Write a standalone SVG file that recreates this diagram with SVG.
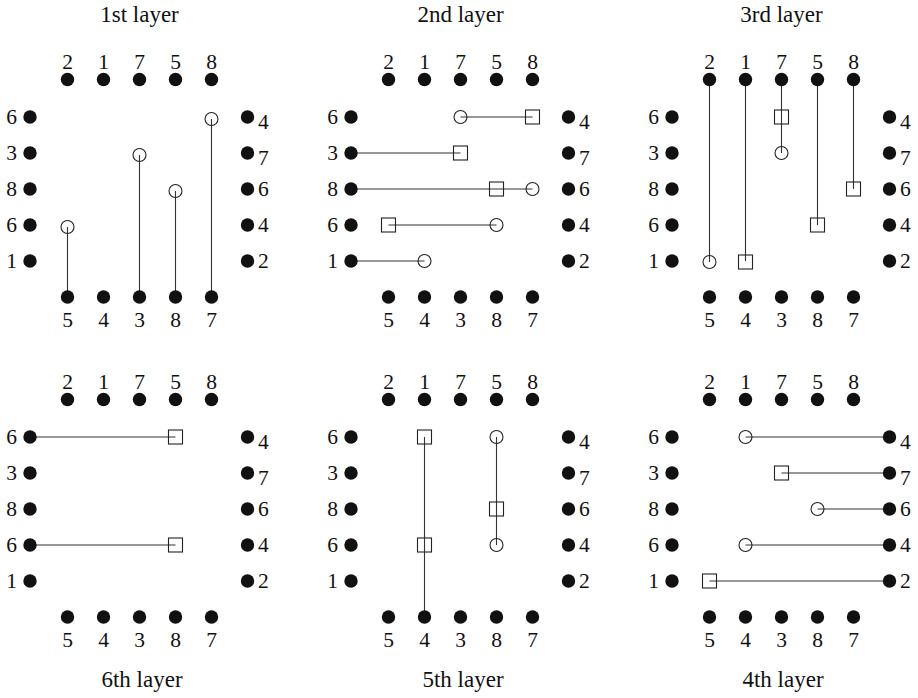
<svg xmlns="http://www.w3.org/2000/svg" width="918" height="698" viewBox="0 0 918 698">
<style>
text{font-family:"Liberation Serif","Times New Roman",serif;fill:#111}
.d{font-size:21.5px}
.c{text-anchor:middle}
.e{text-anchor:end}
.t{font-size:23px;text-anchor:middle}
.pin{fill:#111}
.via{fill:none;stroke:#222;stroke-width:1.1}
.w{stroke:#333;stroke-width:1.1;fill:none}
</style>
<rect width="918" height="698" fill="#fff"/>
<text class="t" x="139.5" y="22">1st layer</text>
<text class="t" x="460.5" y="22">2nd layer</text>
<text class="t" x="781.5" y="22">3rd layer</text>
<text class="t" x="142" y="687">6th layer</text>
<text class="t" x="463" y="687">5th layer</text>
<text class="t" x="783" y="687">4th layer</text>

<!-- ===== Panel 1: 1st layer ===== -->
<g id="layer1" transform="translate(0,0)">
<g id="connectors-1">
<path class="w" d="M67.5 297V227M139.5 297V155M175.5 297V191M211.5 297V119"/>
</g>
<g id="l1-t1"><circle class="pin" cx="67.5" cy="79.5" r="6.7"/><text class="d c" x="67.5" y="68.5">2</text></g>
<g id="l1-t2"><circle class="pin" cx="103.5" cy="79.5" r="6.7"/><text class="d c" x="103.5" y="68.5">1</text></g>
<g id="l1-t3"><circle class="pin" cx="139.5" cy="79.5" r="6.7"/><text class="d c" x="139.5" y="68.5">7</text></g>
<g id="l1-t4"><circle class="pin" cx="175.5" cy="79.5" r="6.7"/><text class="d c" x="175.5" y="68.5">5</text></g>
<g id="l1-t5"><circle class="pin" cx="211.5" cy="79.5" r="6.7"/><text class="d c" x="211.5" y="68.5">8</text></g>
<g id="l1-l1"><circle class="pin" cx="30" cy="117" r="6.7"/><text class="d e" x="17" y="124">6</text></g>
<g id="l1-l2"><circle class="pin" cx="30" cy="153" r="6.7"/><text class="d e" x="17" y="160">3</text></g>
<g id="l1-l3"><circle class="pin" cx="30" cy="189" r="6.7"/><text class="d e" x="17" y="196">8</text></g>
<g id="l1-l4"><circle class="pin" cx="30" cy="225" r="6.7"/><text class="d e" x="17" y="232">6</text></g>
<g id="l1-l5"><circle class="pin" cx="30" cy="261" r="6.7"/><text class="d e" x="17" y="268">1</text></g>
<g id="l1-r1"><circle class="pin" cx="247.5" cy="117" r="6.7"/><text class="d" x="258" y="129">4</text></g>
<g id="l1-r2"><circle class="pin" cx="247.5" cy="153" r="6.7"/><text class="d" x="258" y="165">7</text></g>
<g id="l1-r3"><circle class="pin" cx="247.5" cy="189" r="6.7"/><text class="d" x="258" y="196">6</text></g>
<g id="l1-r4"><circle class="pin" cx="247.5" cy="225" r="6.7"/><text class="d" x="258" y="232">4</text></g>
<g id="l1-r5"><circle class="pin" cx="247.5" cy="261" r="6.7"/><text class="d" x="258" y="268">2</text></g>
<g id="l1-b1"><circle class="pin" cx="67.5" cy="297" r="6.7"/><text class="d c" x="67.5" y="327">5</text></g>
<g id="l1-b2"><circle class="pin" cx="103.5" cy="297" r="6.7"/><text class="d c" x="103.5" y="327">4</text></g>
<g id="l1-b3"><circle class="pin" cx="139.5" cy="297" r="6.7"/><text class="d c" x="139.5" y="327">3</text></g>
<g id="l1-b4"><circle class="pin" cx="175.5" cy="297" r="6.7"/><text class="d c" x="175.5" y="327">8</text></g>
<g id="l1-b5"><circle class="pin" cx="211.5" cy="297" r="6.7"/><text class="d c" x="211.5" y="327">7</text></g>
<g id="l1-v1"><circle class="via" cx="67.5" cy="227" r="6.5"/></g>
<g id="l1-v2"><circle class="via" cx="139.5" cy="155" r="6.5"/></g>
<g id="l1-v3"><circle class="via" cx="175.5" cy="191" r="6.5"/></g>
<g id="l1-v4"><circle class="via" cx="211.5" cy="119" r="6.5"/></g>
</g>

<!-- ===== Panel 2: 2nd layer ===== -->
<g id="layer2" transform="translate(321,0)">
<g id="connectors-2">
<path class="w" d="M139.5 117H211.5M30 153H139.5M30 189H211.5M67.5 225H175.5M30 261H103.5"/>
</g>
<g id="l2-t1"><circle class="pin" cx="67.5" cy="79.5" r="6.7"/><text class="d c" x="67.5" y="68.5">2</text></g>
<g id="l2-t2"><circle class="pin" cx="103.5" cy="79.5" r="6.7"/><text class="d c" x="103.5" y="68.5">1</text></g>
<g id="l2-t3"><circle class="pin" cx="139.5" cy="79.5" r="6.7"/><text class="d c" x="139.5" y="68.5">7</text></g>
<g id="l2-t4"><circle class="pin" cx="175.5" cy="79.5" r="6.7"/><text class="d c" x="175.5" y="68.5">5</text></g>
<g id="l2-t5"><circle class="pin" cx="211.5" cy="79.5" r="6.7"/><text class="d c" x="211.5" y="68.5">8</text></g>
<g id="l2-l1"><circle class="pin" cx="30" cy="117" r="6.7"/><text class="d e" x="17" y="124">6</text></g>
<g id="l2-l2"><circle class="pin" cx="30" cy="153" r="6.7"/><text class="d e" x="17" y="160">3</text></g>
<g id="l2-l3"><circle class="pin" cx="30" cy="189" r="6.7"/><text class="d e" x="17" y="196">8</text></g>
<g id="l2-l4"><circle class="pin" cx="30" cy="225" r="6.7"/><text class="d e" x="17" y="232">6</text></g>
<g id="l2-l5"><circle class="pin" cx="30" cy="261" r="6.7"/><text class="d e" x="17" y="268">1</text></g>
<g id="l2-r1"><circle class="pin" cx="247.5" cy="117" r="6.7"/><text class="d" x="258" y="129">4</text></g>
<g id="l2-r2"><circle class="pin" cx="247.5" cy="153" r="6.7"/><text class="d" x="258" y="165">7</text></g>
<g id="l2-r3"><circle class="pin" cx="247.5" cy="189" r="6.7"/><text class="d" x="258" y="196">6</text></g>
<g id="l2-r4"><circle class="pin" cx="247.5" cy="225" r="6.7"/><text class="d" x="258" y="232">4</text></g>
<g id="l2-r5"><circle class="pin" cx="247.5" cy="261" r="6.7"/><text class="d" x="258" y="268">2</text></g>
<g id="l2-b1"><circle class="pin" cx="67.5" cy="297" r="6.7"/><text class="d c" x="67.5" y="327">5</text></g>
<g id="l2-b2"><circle class="pin" cx="103.5" cy="297" r="6.7"/><text class="d c" x="103.5" y="327">4</text></g>
<g id="l2-b3"><circle class="pin" cx="139.5" cy="297" r="6.7"/><text class="d c" x="139.5" y="327">3</text></g>
<g id="l2-b4"><circle class="pin" cx="175.5" cy="297" r="6.7"/><text class="d c" x="175.5" y="327">8</text></g>
<g id="l2-b5"><circle class="pin" cx="211.5" cy="297" r="6.7"/><text class="d c" x="211.5" y="327">7</text></g>
<g id="l2-v1"><circle class="via" cx="139.5" cy="117" r="6.5"/></g>
<g id="l2-v2"><rect class="via" x="204.5" y="110" width="14" height="14"/></g>
<g id="l2-v3"><rect class="via" x="132.5" y="146" width="14" height="14"/></g>
<g id="l2-v4"><rect class="via" x="168.5" y="182" width="14" height="14"/></g>
<g id="l2-v5"><circle class="via" cx="211.5" cy="189" r="6.5"/></g>
<g id="l2-v6"><rect class="via" x="60.5" y="218" width="14" height="14"/></g>
<g id="l2-v7"><circle class="via" cx="175.5" cy="225" r="6.5"/></g>
<g id="l2-v8"><circle class="via" cx="103.5" cy="261" r="6.5"/></g>
</g>

<!-- ===== Panel 3: 3rd layer ===== -->
<g id="layer3" transform="translate(642,0)">
<g id="connectors-3">
<path class="w" d="M67.5 79.5V262M103.5 79.5V261M139.5 79.5V153M175.5 79.5V225M211.5 79.5V189"/>
</g>
<g id="l3-t1"><circle class="pin" cx="67.5" cy="79.5" r="6.7"/><text class="d c" x="67.5" y="68.5">2</text></g>
<g id="l3-t2"><circle class="pin" cx="103.5" cy="79.5" r="6.7"/><text class="d c" x="103.5" y="68.5">1</text></g>
<g id="l3-t3"><circle class="pin" cx="139.5" cy="79.5" r="6.7"/><text class="d c" x="139.5" y="68.5">7</text></g>
<g id="l3-t4"><circle class="pin" cx="175.5" cy="79.5" r="6.7"/><text class="d c" x="175.5" y="68.5">5</text></g>
<g id="l3-t5"><circle class="pin" cx="211.5" cy="79.5" r="6.7"/><text class="d c" x="211.5" y="68.5">8</text></g>
<g id="l3-l1"><circle class="pin" cx="30" cy="117" r="6.7"/><text class="d e" x="17" y="124">6</text></g>
<g id="l3-l2"><circle class="pin" cx="30" cy="153" r="6.7"/><text class="d e" x="17" y="160">3</text></g>
<g id="l3-l3"><circle class="pin" cx="30" cy="189" r="6.7"/><text class="d e" x="17" y="196">8</text></g>
<g id="l3-l4"><circle class="pin" cx="30" cy="225" r="6.7"/><text class="d e" x="17" y="232">6</text></g>
<g id="l3-l5"><circle class="pin" cx="30" cy="261" r="6.7"/><text class="d e" x="17" y="268">1</text></g>
<g id="l3-r1"><circle class="pin" cx="247.5" cy="117" r="6.7"/><text class="d" x="258" y="129">4</text></g>
<g id="l3-r2"><circle class="pin" cx="247.5" cy="153" r="6.7"/><text class="d" x="258" y="165">7</text></g>
<g id="l3-r3"><circle class="pin" cx="247.5" cy="189" r="6.7"/><text class="d" x="258" y="196">6</text></g>
<g id="l3-r4"><circle class="pin" cx="247.5" cy="225" r="6.7"/><text class="d" x="258" y="232">4</text></g>
<g id="l3-r5"><circle class="pin" cx="247.5" cy="261" r="6.7"/><text class="d" x="258" y="268">2</text></g>
<g id="l3-b1"><circle class="pin" cx="67.5" cy="297" r="6.7"/><text class="d c" x="67.5" y="327">5</text></g>
<g id="l3-b2"><circle class="pin" cx="103.5" cy="297" r="6.7"/><text class="d c" x="103.5" y="327">4</text></g>
<g id="l3-b3"><circle class="pin" cx="139.5" cy="297" r="6.7"/><text class="d c" x="139.5" y="327">3</text></g>
<g id="l3-b4"><circle class="pin" cx="175.5" cy="297" r="6.7"/><text class="d c" x="175.5" y="327">8</text></g>
<g id="l3-b5"><circle class="pin" cx="211.5" cy="297" r="6.7"/><text class="d c" x="211.5" y="327">7</text></g>
<g id="l3-v1"><circle class="via" cx="67.5" cy="262" r="6.5"/></g>
<g id="l3-v2"><rect class="via" x="96.5" y="255" width="14" height="14"/></g>
<g id="l3-v3"><rect class="via" x="132.5" y="110" width="14" height="14"/></g>
<g id="l3-v4"><circle class="via" cx="139.5" cy="153" r="6.5"/></g>
<g id="l3-v5"><rect class="via" x="168.5" y="218" width="14" height="14"/></g>
<g id="l3-v6"><rect class="via" x="204.5" y="182" width="14" height="14"/></g>
</g>

<!-- ===== Panel 4: 6th layer ===== -->
<g id="layer6" transform="translate(0,320)">
<g id="connectors-6">
<path class="w" d="M30 117H175.5M30 225H175.5"/>
</g>
<g id="l6-t1"><circle class="pin" cx="67.5" cy="79.5" r="6.7"/><text class="d c" x="67.5" y="68.5">2</text></g>
<g id="l6-t2"><circle class="pin" cx="103.5" cy="79.5" r="6.7"/><text class="d c" x="103.5" y="68.5">1</text></g>
<g id="l6-t3"><circle class="pin" cx="139.5" cy="79.5" r="6.7"/><text class="d c" x="139.5" y="68.5">7</text></g>
<g id="l6-t4"><circle class="pin" cx="175.5" cy="79.5" r="6.7"/><text class="d c" x="175.5" y="68.5">5</text></g>
<g id="l6-t5"><circle class="pin" cx="211.5" cy="79.5" r="6.7"/><text class="d c" x="211.5" y="68.5">8</text></g>
<g id="l6-l1"><circle class="pin" cx="30" cy="117" r="6.7"/><text class="d e" x="17" y="124">6</text></g>
<g id="l6-l2"><circle class="pin" cx="30" cy="153" r="6.7"/><text class="d e" x="17" y="160">3</text></g>
<g id="l6-l3"><circle class="pin" cx="30" cy="189" r="6.7"/><text class="d e" x="17" y="196">8</text></g>
<g id="l6-l4"><circle class="pin" cx="30" cy="225" r="6.7"/><text class="d e" x="17" y="232">6</text></g>
<g id="l6-l5"><circle class="pin" cx="30" cy="261" r="6.7"/><text class="d e" x="17" y="268">1</text></g>
<g id="l6-r1"><circle class="pin" cx="247.5" cy="117" r="6.7"/><text class="d" x="258" y="129">4</text></g>
<g id="l6-r2"><circle class="pin" cx="247.5" cy="153" r="6.7"/><text class="d" x="258" y="165">7</text></g>
<g id="l6-r3"><circle class="pin" cx="247.5" cy="189" r="6.7"/><text class="d" x="258" y="196">6</text></g>
<g id="l6-r4"><circle class="pin" cx="247.5" cy="225" r="6.7"/><text class="d" x="258" y="232">4</text></g>
<g id="l6-r5"><circle class="pin" cx="247.5" cy="261" r="6.7"/><text class="d" x="258" y="268">2</text></g>
<g id="l6-b1"><circle class="pin" cx="67.5" cy="297" r="6.7"/><text class="d c" x="67.5" y="327">5</text></g>
<g id="l6-b2"><circle class="pin" cx="103.5" cy="297" r="6.7"/><text class="d c" x="103.5" y="327">4</text></g>
<g id="l6-b3"><circle class="pin" cx="139.5" cy="297" r="6.7"/><text class="d c" x="139.5" y="327">3</text></g>
<g id="l6-b4"><circle class="pin" cx="175.5" cy="297" r="6.7"/><text class="d c" x="175.5" y="327">8</text></g>
<g id="l6-b5"><circle class="pin" cx="211.5" cy="297" r="6.7"/><text class="d c" x="211.5" y="327">7</text></g>
<g id="l6-v1"><rect class="via" x="168.5" y="110" width="14" height="14"/></g>
<g id="l6-v2"><rect class="via" x="168.5" y="218" width="14" height="14"/></g>
</g>

<!-- ===== Panel 5: 5th layer ===== -->
<g id="layer5" transform="translate(321,320)">
<g id="connectors-5">
<path class="w" d="M103.5 117V297M175.5 117V225"/>
</g>
<g id="l5-t1"><circle class="pin" cx="67.5" cy="79.5" r="6.7"/><text class="d c" x="67.5" y="68.5">2</text></g>
<g id="l5-t2"><circle class="pin" cx="103.5" cy="79.5" r="6.7"/><text class="d c" x="103.5" y="68.5">1</text></g>
<g id="l5-t3"><circle class="pin" cx="139.5" cy="79.5" r="6.7"/><text class="d c" x="139.5" y="68.5">7</text></g>
<g id="l5-t4"><circle class="pin" cx="175.5" cy="79.5" r="6.7"/><text class="d c" x="175.5" y="68.5">5</text></g>
<g id="l5-t5"><circle class="pin" cx="211.5" cy="79.5" r="6.7"/><text class="d c" x="211.5" y="68.5">8</text></g>
<g id="l5-l1"><circle class="pin" cx="30" cy="117" r="6.7"/><text class="d e" x="17" y="124">6</text></g>
<g id="l5-l2"><circle class="pin" cx="30" cy="153" r="6.7"/><text class="d e" x="17" y="160">3</text></g>
<g id="l5-l3"><circle class="pin" cx="30" cy="189" r="6.7"/><text class="d e" x="17" y="196">8</text></g>
<g id="l5-l4"><circle class="pin" cx="30" cy="225" r="6.7"/><text class="d e" x="17" y="232">6</text></g>
<g id="l5-l5"><circle class="pin" cx="30" cy="261" r="6.7"/><text class="d e" x="17" y="268">1</text></g>
<g id="l5-r1"><circle class="pin" cx="247.5" cy="117" r="6.7"/><text class="d" x="258" y="129">4</text></g>
<g id="l5-r2"><circle class="pin" cx="247.5" cy="153" r="6.7"/><text class="d" x="258" y="165">7</text></g>
<g id="l5-r3"><circle class="pin" cx="247.5" cy="189" r="6.7"/><text class="d" x="258" y="196">6</text></g>
<g id="l5-r4"><circle class="pin" cx="247.5" cy="225" r="6.7"/><text class="d" x="258" y="232">4</text></g>
<g id="l5-r5"><circle class="pin" cx="247.5" cy="261" r="6.7"/><text class="d" x="258" y="268">2</text></g>
<g id="l5-b1"><circle class="pin" cx="67.5" cy="297" r="6.7"/><text class="d c" x="67.5" y="327">5</text></g>
<g id="l5-b2"><circle class="pin" cx="103.5" cy="297" r="6.7"/><text class="d c" x="103.5" y="327">4</text></g>
<g id="l5-b3"><circle class="pin" cx="139.5" cy="297" r="6.7"/><text class="d c" x="139.5" y="327">3</text></g>
<g id="l5-b4"><circle class="pin" cx="175.5" cy="297" r="6.7"/><text class="d c" x="175.5" y="327">8</text></g>
<g id="l5-b5"><circle class="pin" cx="211.5" cy="297" r="6.7"/><text class="d c" x="211.5" y="327">7</text></g>
<g id="l5-v1"><rect class="via" x="96.5" y="110" width="14" height="14"/></g>
<g id="l5-v2"><rect class="via" x="96.5" y="218" width="14" height="14"/></g>
<g id="l5-v3"><circle class="via" cx="175.5" cy="117" r="6.5"/></g>
<g id="l5-v4"><rect class="via" x="168.5" y="182" width="14" height="14"/></g>
<g id="l5-v5"><circle class="via" cx="175.5" cy="225" r="6.5"/></g>
</g>

<!-- ===== Panel 6: 4th layer ===== -->
<g id="layer4" transform="translate(642,320)">
<g id="connectors-4">
<path class="w" d="M103.5 117H247.5M139.5 153H247.5M175.5 189H247.5M103.5 225H247.5M67.5 261H247.5"/>
</g>
<g id="l4-t1"><circle class="pin" cx="67.5" cy="79.5" r="6.7"/><text class="d c" x="67.5" y="68.5">2</text></g>
<g id="l4-t2"><circle class="pin" cx="103.5" cy="79.5" r="6.7"/><text class="d c" x="103.5" y="68.5">1</text></g>
<g id="l4-t3"><circle class="pin" cx="139.5" cy="79.5" r="6.7"/><text class="d c" x="139.5" y="68.5">7</text></g>
<g id="l4-t4"><circle class="pin" cx="175.5" cy="79.5" r="6.7"/><text class="d c" x="175.5" y="68.5">5</text></g>
<g id="l4-t5"><circle class="pin" cx="211.5" cy="79.5" r="6.7"/><text class="d c" x="211.5" y="68.5">8</text></g>
<g id="l4-l1"><circle class="pin" cx="30" cy="117" r="6.7"/><text class="d e" x="17" y="124">6</text></g>
<g id="l4-l2"><circle class="pin" cx="30" cy="153" r="6.7"/><text class="d e" x="17" y="160">3</text></g>
<g id="l4-l3"><circle class="pin" cx="30" cy="189" r="6.7"/><text class="d e" x="17" y="196">8</text></g>
<g id="l4-l4"><circle class="pin" cx="30" cy="225" r="6.7"/><text class="d e" x="17" y="232">6</text></g>
<g id="l4-l5"><circle class="pin" cx="30" cy="261" r="6.7"/><text class="d e" x="17" y="268">1</text></g>
<g id="l4-r1"><circle class="pin" cx="247.5" cy="117" r="6.7"/><text class="d" x="258" y="129">4</text></g>
<g id="l4-r2"><circle class="pin" cx="247.5" cy="153" r="6.7"/><text class="d" x="258" y="165">7</text></g>
<g id="l4-r3"><circle class="pin" cx="247.5" cy="189" r="6.7"/><text class="d" x="258" y="196">6</text></g>
<g id="l4-r4"><circle class="pin" cx="247.5" cy="225" r="6.7"/><text class="d" x="258" y="232">4</text></g>
<g id="l4-r5"><circle class="pin" cx="247.5" cy="261" r="6.7"/><text class="d" x="258" y="268">2</text></g>
<g id="l4-b1"><circle class="pin" cx="67.5" cy="297" r="6.7"/><text class="d c" x="67.5" y="327">5</text></g>
<g id="l4-b2"><circle class="pin" cx="103.5" cy="297" r="6.7"/><text class="d c" x="103.5" y="327">4</text></g>
<g id="l4-b3"><circle class="pin" cx="139.5" cy="297" r="6.7"/><text class="d c" x="139.5" y="327">3</text></g>
<g id="l4-b4"><circle class="pin" cx="175.5" cy="297" r="6.7"/><text class="d c" x="175.5" y="327">8</text></g>
<g id="l4-b5"><circle class="pin" cx="211.5" cy="297" r="6.7"/><text class="d c" x="211.5" y="327">7</text></g>
<g id="l4-v1"><circle class="via" cx="103.5" cy="117" r="6.5"/></g>
<g id="l4-v2"><rect class="via" x="132.5" y="146" width="14" height="14"/></g>
<g id="l4-v3"><circle class="via" cx="175.5" cy="189" r="6.5"/></g>
<g id="l4-v4"><circle class="via" cx="103.5" cy="225" r="6.5"/></g>
<g id="l4-v5"><rect class="via" x="60.5" y="254" width="14" height="14"/></g>
</g>
</svg>
